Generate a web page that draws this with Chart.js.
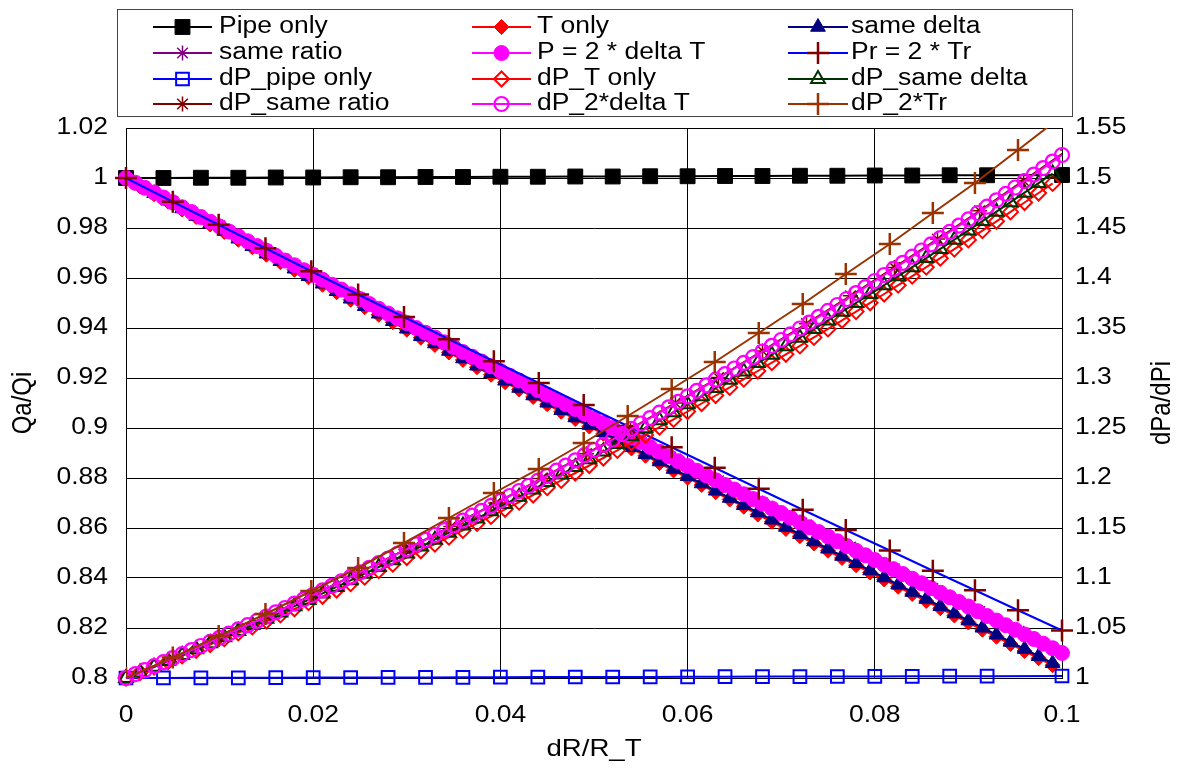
<!DOCTYPE html>
<html>
<head>
<meta charset="utf-8">
<script src="https://cdn.jsdelivr.net/npm/chart.js@4.4.1/dist/chart.umd.min.js"></script>
<style>
  html, body { margin: 0; padding: 0; background: #fff; }
  #wrap { width: 1185px; height: 776px; }
</style>
</head>
<body>
<div id="wrap"><canvas id="c" width="1185" height="776"></canvas></div>
<script>
/* ── data ── */

// x grids (dR/R_T)
const xA = [0, 0.004, 0.008, 0.012, 0.016, 0.02, 0.024, 0.028, 0.032, 0.036, 0.04, 0.044, 0.048,
    0.052, 0.056, 0.06, 0.064, 0.068, 0.072, 0.076, 0.08, 0.084, 0.088, 0.092, 0.1];
const xB = [0, 0.0015, 0.003, 0.0045, 0.006, 0.0075, 0.009, 0.0105, 0.012, 0.0135, 0.015, 0.0165,
    0.018, 0.0195, 0.021, 0.0225, 0.024, 0.0255, 0.027, 0.0285, 0.03, 0.0315, 0.033, 0.0345, 0.036,
    0.0375, 0.039, 0.0405, 0.042, 0.0435, 0.045, 0.0465, 0.048, 0.0495, 0.051, 0.0525, 0.054, 0.0555,
    0.057, 0.0585, 0.06, 0.0615, 0.063, 0.0645, 0.066, 0.0675, 0.069, 0.0705, 0.072, 0.0735, 0.075,
    0.0765, 0.078, 0.0795, 0.081, 0.0825, 0.084, 0.0855, 0.087, 0.0885, 0.09, 0.0915, 0.093, 0.0945,
    0.096, 0.0975, 0.099];
const xC = [0, 0.001, 0.002, 0.003, 0.004, 0.005, 0.006, 0.007, 0.008, 0.009,
    0.01, 0.011, 0.012, 0.013, 0.014, 0.015, 0.016, 0.017, 0.018, 0.019,
    0.02, 0.021, 0.022, 0.023, 0.024, 0.025, 0.026, 0.027, 0.028, 0.029,
    0.03, 0.031, 0.032, 0.033, 0.034, 0.035, 0.036, 0.037, 0.038, 0.039,
    0.04, 0.041, 0.042, 0.043, 0.044, 0.045, 0.046, 0.047, 0.048, 0.049,
    0.05, 0.051, 0.052, 0.053, 0.054, 0.055, 0.056, 0.057, 0.058, 0.059,
    0.06, 0.061, 0.062, 0.063, 0.064, 0.065, 0.066, 0.067, 0.068, 0.069,
    0.07, 0.071, 0.072, 0.073, 0.074, 0.075, 0.076, 0.077, 0.078, 0.079,
    0.08, 0.081, 0.082, 0.083, 0.084, 0.085, 0.086, 0.087, 0.088, 0.089,
    0.09, 0.091, 0.092, 0.093, 0.094, 0.095, 0.096, 0.097, 0.098, 0.099, 0.1];
const xD = [0, 0.005, 0.0099, 0.0149, 0.0198, 0.0248, 0.0297, 0.0345, 0.0393, 0.0441, 0.0489,
    0.0536, 0.0583, 0.0629, 0.0676, 0.0723, 0.0769, 0.0816, 0.0862, 0.0907, 0.0953, 0.1];
const xE = [0, 0.005, 0.01, 0.015, 0.0199, 0.0249, 0.0299, 0.0347, 0.0395, 0.0444, 0.0492,
    0.0539, 0.0587, 0.0633, 0.068, 0.0727, 0.0774, 0.0821, 0.0867, 0.0912, 0.0959, 0.1006];

// left axis series (Qa/Qi)
const pipeOnly = [1, 1.0000, 1.0001, 1.0001, 1.0002, 1.0002, 1.0003, 1.0003, 1.0004, 1.0004, 1.0005,
    1.0005, 1.0006, 1.0006, 1.0007, 1.0007, 1.0008, 1.0008, 1.0009, 1.0009, 1.0010, 1.0010, 1.0011,
    1.0011, 1.0012];
const tOnly = [1, 0.9966, 0.9935, 0.9905, 0.9874, 0.9844, 0.9814, 0.9784, 0.9753, 0.9723,
    0.9693, 0.9663, 0.9633, 0.9603, 0.9573, 0.9543, 0.9513, 0.9483, 0.9453, 0.9423,
    0.9393, 0.9361, 0.9332, 0.9302, 0.9272, 0.9243, 0.9213, 0.9183, 0.9154, 0.9124,
    0.9095, 0.9065, 0.9036, 0.9006, 0.8977, 0.8948, 0.8918, 0.8889, 0.8860, 0.8830,
    0.8801, 0.8772, 0.8743, 0.8714, 0.8685, 0.8654, 0.8625, 0.8596, 0.8567, 0.8538,
    0.8509, 0.8480, 0.8451, 0.8422, 0.8394, 0.8365, 0.8336, 0.8308, 0.8279, 0.8250,
    0.8222, 0.8193, 0.8165, 0.8136, 0.8108, 0.8079, 0.8051];
const sameDelta = [1, 0.9970, 0.9939, 0.9909, 0.9878, 0.9848, 0.9818, 0.9788, 0.9757, 0.9727,
    0.9697, 0.9667, 0.9637, 0.9607, 0.9577, 0.9547, 0.9517, 0.9487, 0.9457, 0.9427,
    0.9397, 0.9367, 0.9338, 0.9308, 0.9278, 0.9249, 0.9219, 0.9189, 0.9160, 0.9130,
    0.9101, 0.9071, 0.9042, 0.9012, 0.8983, 0.8954, 0.8924, 0.8895, 0.8866, 0.8836,
    0.8807, 0.8778, 0.8749, 0.8720, 0.8691, 0.8662, 0.8633, 0.8604, 0.8575, 0.8546,
    0.8517, 0.8488, 0.8459, 0.8430, 0.8402, 0.8373, 0.8344, 0.8316, 0.8287, 0.8258,
    0.8230, 0.8201, 0.8173, 0.8144, 0.8116, 0.8087, 0.8059];
const sameRatio = [1, 0.9906, 0.9809, 0.9712, 0.9617, 0.9521, 0.9424, 0.9332, 0.9241, 0.9147, 0.9056,
    0.8966, 0.8876, 0.8789, 0.8700, 0.8612, 0.8524, 0.8436, 0.8350, 0.8266, 0.8179, 0.8092];
const p2DeltaT = [1, 0.9981, 0.9961, 0.9942, 0.9922, 0.9903, 0.9883, 0.9864, 0.9844, 0.9825,
    0.9806, 0.9786, 0.9767, 0.9747, 0.9728, 0.9709, 0.9689, 0.9670, 0.9651, 0.9631,
    0.9612, 0.9593, 0.9573, 0.9554, 0.9535, 0.9516, 0.9496, 0.9477, 0.9458, 0.9439,
    0.9420, 0.9400, 0.9381, 0.9362, 0.9343, 0.9324, 0.9304, 0.9285, 0.9266, 0.9247,
    0.9228, 0.9209, 0.9190, 0.9171, 0.9152, 0.9133, 0.9114, 0.9095, 0.9076, 0.9057,
    0.9038, 0.9019, 0.9000, 0.8981, 0.8962, 0.8943, 0.8924, 0.8905, 0.8886, 0.8867,
    0.8848, 0.8829, 0.8810, 0.8791, 0.8772, 0.8754, 0.8735, 0.8716, 0.8697, 0.8678,
    0.8660, 0.8641, 0.8622, 0.8603, 0.8584, 0.8566, 0.8547, 0.8528, 0.8509, 0.8491,
    0.8472, 0.8453, 0.8435, 0.8416, 0.8397, 0.8379, 0.8360, 0.8341, 0.8323, 0.8304,
    0.8286, 0.8267, 0.8248, 0.8230, 0.8211, 0.8193, 0.8174, 0.8156, 0.8137, 0.8119, 0.8100];
const pr2Tr = [1, 0.9905, 0.9813, 0.9719, 0.9627, 0.9534, 0.9444, 0.9355, 0.9267, 0.9180, 0.9092,
    0.9008, 0.8923, 0.8841, 0.8757, 0.8673, 0.8592, 0.8510, 0.8429, 0.8351, 0.8271, 0.8190];

// right axis series (dPa/dPi)
const dpPipeOnly = [1, 1.0001, 1.0002, 1.0002, 1.0003, 1.0004, 1.0005, 1.0006, 1.0006, 1.0007, 1.0008,
    1.0009, 1.0010, 1.0010, 1.0011, 1.0012, 1.0013, 1.0014, 1.0014, 1.0015, 1.0016, 1.0017, 1.0018,
    1.0018, 1.0020];
const dpTOnly = [1, 1.0054, 1.0109, 1.0164, 1.0221, 1.0277, 1.0335, 1.0393, 1.0451, 1.0511,
    1.0570, 1.0631, 1.0692, 1.0754, 1.0817, 1.0880, 1.0943, 1.1008, 1.1073, 1.1138,
    1.1205, 1.1272, 1.1339, 1.1408, 1.1476, 1.1546, 1.1616, 1.1687, 1.1758, 1.1830,
    1.1903, 1.1976, 1.2050, 1.2125, 1.2200, 1.2276, 1.2353, 1.2430, 1.2508, 1.2586,
    1.2665, 1.2745, 1.2825, 1.2906, 1.2988, 1.3070, 1.3153, 1.3237, 1.3321, 1.3406,
    1.3491, 1.3577, 1.3664, 1.3752, 1.3840, 1.3928, 1.4018, 1.4108, 1.4198, 1.4289,
    1.4381, 1.4474, 1.4567, 1.4661, 1.4755, 1.4850, 1.4946];
const dpSameDelta = [1, 1.0056, 1.0113, 1.0171, 1.0229, 1.0288, 1.0348, 1.0408, 1.0469, 1.0530,
    1.0592, 1.0654, 1.0718, 1.0781, 1.0846, 1.0911, 1.0977, 1.1043, 1.1110, 1.1177,
    1.1245, 1.1314, 1.1383, 1.1453, 1.1524, 1.1595, 1.1667, 1.1739, 1.1812, 1.1886,
    1.1960, 1.2035, 1.2111, 1.2187, 1.2264, 1.2341, 1.2419, 1.2498, 1.2577, 1.2657,
    1.2737, 1.2818, 1.2900, 1.2982, 1.3065, 1.3149, 1.3233, 1.3318, 1.3403, 1.3489,
    1.3576, 1.3663, 1.3751, 1.3839, 1.3928, 1.4018, 1.4108, 1.4199, 1.4291, 1.4383,
    1.4476, 1.4569, 1.4663, 1.4758, 1.4853, 1.4949, 1.5045];
const dpSameRatio = [1, 1.0198, 1.0403, 1.0615, 1.0829, 1.1054, 1.1286, 1.1515, 1.1749, 1.1996, 1.2243,
    1.2491, 1.2751, 1.3005, 1.3271, 1.3543, 1.3822, 1.4106, 1.4389, 1.4672, 1.4973, 1.5280];
const dp2DeltaT = [1, 1.0039, 1.0078, 1.0118, 1.0158, 1.0198, 1.0238, 1.0279, 1.0320, 1.0361,
    1.0402, 1.0444, 1.0486, 1.0528, 1.0571, 1.0614, 1.0657, 1.0700, 1.0744, 1.0787,
    1.0832, 1.0876, 1.0921, 1.0966, 1.1011, 1.1056, 1.1102, 1.1148, 1.1194, 1.1241,
    1.1288, 1.1335, 1.1382, 1.1430, 1.1478, 1.1526, 1.1574, 1.1623, 1.1672, 1.1721,
    1.1770, 1.1820, 1.1870, 1.1920, 1.1971, 1.2022, 1.2073, 1.2124, 1.2176, 1.2228,
    1.2280, 1.2332, 1.2385, 1.2438, 1.2491, 1.2545, 1.2599, 1.2653, 1.2707, 1.2762,
    1.2816, 1.2872, 1.2927, 1.2983, 1.3038, 1.3095, 1.3151, 1.3208, 1.3265, 1.3322,
    1.3380, 1.3437, 1.3495, 1.3554, 1.3612, 1.3671, 1.3730, 1.3790, 1.3849, 1.3909,
    1.3970, 1.4030, 1.4091, 1.4152, 1.4213, 1.4275, 1.4336, 1.4399, 1.4461, 1.4524,
    1.4586, 1.4650, 1.4713, 1.4777, 1.4841, 1.4905, 1.4969, 1.5034, 1.5099, 1.5164, 1.5230];
const dp2Tr = [1, 1.0205, 1.042, 1.064, 1.087, 1.110, 1.135, 1.160, 1.185, 1.209, 1.235,
    1.262, 1.289, 1.316, 1.345, 1.374, 1.404, 1.434, 1.465, 1.495, 1.528, 1.562];

// tick labels
const xTickLabels = ['0', '0.02', '0.04', '0.06', '0.08', '0.1'];
const leftTickLabels = ['0.8', '0.82', '0.84', '0.86', '0.88', '0.9', '0.92', '0.94', '0.96', '0.98', '1', '1.02'];
const rightTickLabels = ['1', '1.05', '1.1', '1.15', '1.2', '1.25', '1.3', '1.35', '1.4', '1.45', '1.5', '1.55'];

const xTitle = 'dR/R_T';
const leftTitle = 'Qa/Qi';
const rightTitle = 'dPa/dPi';

/* ── styles ── */

const FONT = '"Liberation Sans", Arial, sans-serif';
const TEXT_SX = 1.15;
const NONE = 'rgba(0,0,0,0)';

// clip: only the series that leave the plot area are cut at its border
const SERIES = [
    { label: 'Pipe only', xs: xA, ys: pipeOnly, axis: 'y', line: '#000000', style: 'rect', r: 10.5, fill: '#000000', edge: '#000000', bw: 1 },
    { label: 'T only', xs: xB, ys: tOnly, axis: 'y', line: '#ff0000', style: 'rectRot', r: 7.5, fill: '#ff0000', edge: '#ff0000', bw: 1 },
    { label: 'same delta', xs: xB, ys: sameDelta, axis: 'y', line: '#000080', style: 'triangle', r: 8.5, fill: '#000080', edge: '#000080', bw: 1 },
    { label: 'same ratio', xs: xE, ys: sameRatio, axis: 'y', line: '#800080', style: 'star', r: 7.5, fill: NONE, edge: '#800080', bw: 1.5, clip: true },
    { label: 'P = 2 * delta T', xs: xC, ys: p2DeltaT, axis: 'y', line: '#ff00ff', style: 'circle', r: 7.5, fill: '#ff00ff', edge: '#ff00ff', bw: 1 },
    { label: 'Pr = 2 * Tr', xs: xD, ys: pr2Tr, axis: 'y', line: '#0000ff', style: 'cross', r: 11, fill: NONE, edge: '#800000', bw: 2.5 },
    { label: 'dP_pipe only', xs: xA, ys: dpPipeOnly, axis: 'y2', line: '#0000ff', style: 'rect', r: 9, fill: NONE, edge: '#0000ff', bw: 2 },
    { label: 'dP_T only', xs: xB, ys: dpTOnly, axis: 'y2', line: '#ff0000', style: 'rectRot', r: 7.5, fill: NONE, edge: '#ff0000', bw: 2 },
    { label: 'dP_same delta', xs: xB, ys: dpSameDelta, axis: 'y2', line: '#003300', style: 'triangle', r: 8, fill: NONE, edge: '#003300', bw: 2 },
    { label: 'dP_same ratio', xs: xE, ys: dpSameRatio, axis: 'y2', line: '#800000', style: 'star', r: 7.5, fill: NONE, edge: '#800000', bw: 1.5, clip: true },
    { label: 'dP_2*delta T', xs: xC, ys: dp2DeltaT, axis: 'y2', line: '#ff00ff', style: 'circle', r: 7, fill: NONE, edge: '#ff00ff', bw: 2.2 },
    { label: 'dP_2*Tr', xs: xD, ys: dp2Tr, axis: 'y2', line: '#993300', style: 'cross', r: 11, fill: NONE, edge: '#993300', bw: 2.5, clip: true },
];

function points(xs, ys) {
    return xs.map((x, i) => ({ x: x, y: ys[i] }));
}

function stretchedText(ctx, s, x, y, align, rotate) {
    ctx.save();
    ctx.translate(x, y);
    if (rotate) {
        ctx.rotate(-Math.PI / 2);
        ctx.scale(1, TEXT_SX);
    } else {
        ctx.scale(TEXT_SX, 1);
    }
    ctx.textAlign = align;
    ctx.textBaseline = 'middle';
    ctx.fillText(s, 0, 0);
    ctx.restore();
}

function marker(ctx, s, x, y) {
    ctx.save();
    ctx.fillStyle = s.fill;
    ctx.strokeStyle = s.edge;
    ctx.lineWidth = s.bw;
    Chart.helpers.drawPoint(ctx, { pointStyle: s.style, radius: s.r, rotation: 0, borderWidth: s.bw }, x, y);
    ctx.restore();
}

/* ── frame, texts and legend box ── */

const decorPlugin = {
    id: 'decor',
    beforeDatasetsDraw(chart) {
        const a = chart.chartArea;
        const ctx = chart.ctx;
        ctx.save();
        ctx.strokeStyle = '#000';
        ctx.lineWidth = 1;
        ctx.strokeRect(Math.round(a.left) + 0.5, Math.round(a.top) + 0.5,
            Math.round(a.right - a.left), Math.round(a.bottom - a.top));
        ctx.restore();
    },
    afterDraw(chart) {
        const ctx = chart.ctx;
        const a = chart.chartArea;
        const sx = chart.scales.x, sy = chart.scales.y, sy2 = chart.scales.y2;
        ctx.save();
        ctx.fillStyle = '#000';
        ctx.font = '23px ' + FONT;

        xTickLabels.forEach(t => stretchedText(ctx, t, sx.getPixelForValue(parseFloat(t)), 716, 'center'));
        leftTickLabels.forEach(t => stretchedText(ctx, t, 108, sy.getPixelForValue(parseFloat(t)), 'right'));
        rightTickLabels.forEach(t => stretchedText(ctx, t, 1075, sy2.getPixelForValue(parseFloat(t)), 'left'));

        ctx.font = '24px ' + FONT;
        stretchedText(ctx, xTitle, (a.left + a.right) / 2, 749, 'center');
        stretchedText(ctx, leftTitle, 23, (a.top + a.bottom) / 2, 'center', true);
        stretchedText(ctx, rightTitle, 1162, (a.top + a.bottom) / 2, 'center', true);

        // legend: 3 columns x 4 rows
        ctx.strokeStyle = '#444';
        ctx.lineWidth = 1;
        ctx.strokeRect(117.5, 9.5, 955, 107);
        const cols = [{ x1: 153, x2: 212, tx: 219 }, { x1: 472, x2: 531, tx: 537 }, { x1: 788, x2: 848, tx: 851 }];
        const rows = [27, 53, 79, 104];
        ctx.font = '23px ' + FONT;
        SERIES.forEach((s, i) => {
            const c = cols[i % 3];
            const y = rows[Math.floor(i / 3)];
            ctx.strokeStyle = s.line;
            ctx.lineWidth = 2;
            ctx.beginPath();
            ctx.moveTo(c.x1, y);
            ctx.lineTo(c.x2, y);
            ctx.stroke();
            marker(ctx, s, (c.x1 + c.x2) / 2, y);
            ctx.fillStyle = '#000';
            stretchedText(ctx, s.label, c.tx, y, 'left');
        });
        ctx.restore();
    }
};

const datasets = SERIES.map((s, i) => {
    const ds = {
        label: s.label,
        data: points(s.xs, s.ys),
        yAxisID: s.axis,
        showLine: true,
        fill: false,
        tension: 0,
        borderColor: s.line,
        borderWidth: 2,
        pointStyle: s.style,
        pointRadius: s.r,
        pointBackgroundColor: s.fill,
        pointBorderColor: s.edge,
        pointBorderWidth: s.bw,
        order: SERIES.length - i,
    };
    if (!s.clip) ds.clip = false;
    return ds;
});

const gridOpts = { color: '#000', lineWidth: 1, drawTicks: false };

new Chart(document.getElementById('c').getContext('2d'), {
    type: 'scatter',
    data: { datasets: datasets },
    options: {
        responsive: false,
        animation: false,
        events: [],
        devicePixelRatio: 1,
        layout: { padding: { left: 126, right: 123, top: 128, bottom: 98 } },
        plugins: { legend: { display: false }, tooltip: { enabled: false } },
        scales: {
            x: {
                type: 'linear', min: 0, max: 0.1,
                ticks: { stepSize: 0.02, display: false },
                grid: gridOpts,
                border: { display: true, color: '#000' },
                afterFit(s) { s.height = 0; },
            },
            y: {
                type: 'linear', position: 'left', min: 0.8, max: 1.02,
                ticks: { stepSize: 0.02, display: false },
                grid: gridOpts,
                border: { display: true, color: '#000' },
                afterFit(s) { s.width = 0; },
            },
            y2: {
                type: 'linear', position: 'right', min: 1, max: 1.55,
                ticks: { stepSize: 0.05, display: false },
                grid: { display: false, drawTicks: false },
                border: { display: true, color: '#000' },
                afterFit(s) { s.width = 0; },
            },
        },
    },
    plugins: [decorPlugin],
});
</script>
</body>
</html>
